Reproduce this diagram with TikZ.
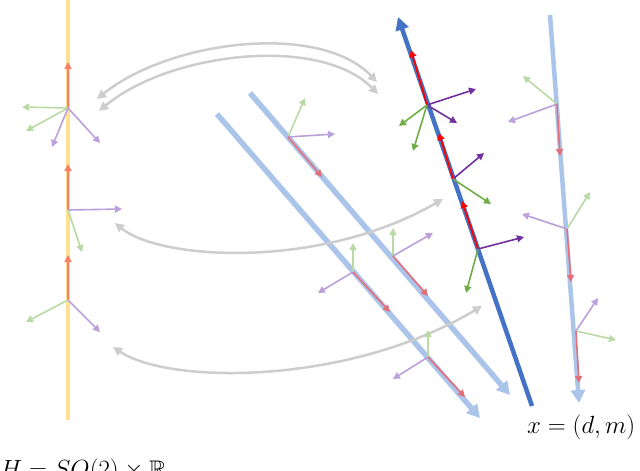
\documentclass[tikz,border=0pt]{standalone}
\usepackage{amssymb}
\usetikzlibrary{arrows.meta}
\definecolor{ylw}{RGB}{255,225,145}
\definecolor{lblue}{RGB}{170,196,234}
\definecolor{dblue}{RGB}{68,114,196}
\definecolor{arcgrey}{RGB}{205,205,205}
\definecolor{lred}{RGB}{255,125,100}
\definecolor{mred}{RGB}{228,110,122}
\definecolor{lgreen}{RGB}{185,217,165}
\definecolor{lpurple}{RGB}{188,160,220}
\definecolor{dred}{RGB}{255,0,0}
\definecolor{dpurple}{RGB}{112,48,160}
\definecolor{dgreen}{RGB}{112,173,71}
\begin{document}
\begin{tikzpicture}[x=1pt,y=-1pt,
  vec/.style={line width=1.6pt,-{Triangle[length=7pt,width=7pt]}},
  vr/.style={vec,draw=lred},
  vm/.style={vec,draw=mred},
  vg/.style={vec,draw=lgreen},
  vp/.style={vec,draw=lpurple},
  dr/.style={vec,draw=dred,line width=1.8pt},
  dg/.style={vec,draw=dgreen},
  dp/.style={vec,draw=dpurple},
  arc/.style={draw=arcgrey,line width=2.5pt,{Triangle[length=9pt,width=9pt]}-{Triangle[length=9pt,width=9pt]}},
  bline/.style={draw=lblue,line width=5.5pt,-{Triangle[length=13pt,width=14pt]}},
  lbl/.style={font=\fontsize{24}{28}\selectfont,inner sep=0pt}]
\useasboundingbox (0,0) rectangle (640,471);

% yellow line
\coordinate (y0) at (68,0);
\coordinate (y1) at (68,420);
\draw[draw=ylw,line width=4.5pt] (y0) -- (y1);

% light blue diagonal lines
\coordinate (l1a) at (217,114);
\coordinate (l1b) at (480,418);
\coordinate (l2a) at (250,93);
\coordinate (l2b) at (510,395);
\draw[bline] (l1a) -- (l1b);
\draw[bline] (l2a) -- (l2b);

% right light blue line
\coordinate (ra) at (550,15);
\coordinate (rb) at (579,403);
\draw[bline,line width=4.5pt] (ra) -- (rb);

% dark blue line
\coordinate (da) at (532,406);
\coordinate (db) at (398,17);
\draw[draw=dblue,line width=4.5pt,-{Triangle[length=13pt,width=13pt]}] (da) -- (db);

% grey arcs
\draw[arc] (97,99) .. controls (170,40) and (320,22) .. (377,82);
\draw[arc] (99,111) .. controls (170,52) and (320,35) .. (378,94);
\draw[arc] (115,223) .. controls (160,260) and (320,270) .. (443,199);
\draw[arc] (113,347) .. controls (170,385) and (350,385) .. (482,306);

% left frames
\coordinate (A) at (68,108);
\draw[vr] (A) -- (68,62);
\draw[vg] (A) -- (22,107);
\draw[vg] (A) -- (26,131);
\draw[vp] (A) -- (52,147);
\draw[vp] (A) -- (100,143);
\coordinate (B) at (68,210);
\draw[vr] (B) -- (68,164);
\draw[vp] (B) -- (122,209);
\draw[vg] (B) -- (82,252);
\coordinate (C) at (68,300);
\draw[vr] (C) -- (68,255);
\draw[vg] (C) -- (26,322);
\draw[vp] (C) -- (100,332);

% middle frames
\coordinate (M1) at (288,137);
\draw[vg] (M1) -- (305,98);
\draw[vp] (M1) -- (335,134);
\draw[vm] (M1) -- (322,177);
\coordinate (M2) at (353,272);
\draw[vg] (M2) -- (353,243);
\draw[vp] (M2) -- (318,293);
\draw[vm] (M2) -- (390,312);
\coordinate (M3) at (393,256);
\draw[vg] (M3) -- (393,228);
\draw[vp] (M3) -- (433,233);
\draw[vm] (M3) -- (428,296);
\coordinate (M4) at (428,357);
\draw[vg] (M4) -- (428,330);
\draw[vp] (M4) -- (393,379);
\draw[vm] (M4) -- (465,397);

% dark frames
\coordinate (D1) at (427,105);
\draw[dr] (D1) -- (411,50);
\draw[dp] (D1) -- (476,89);
\draw[dp] (D1) -- (457,123);
\draw[dg] (D1) -- (399,126);
\draw[dg] (D1) -- (413,151);
\coordinate (D2) at (453,179);
\draw[dr] (D2) -- (439,133);
\draw[dp] (D2) -- (484,153);
\draw[dg] (D2) -- (491,204);
\coordinate (D3) at (478,249);
\draw[dr] (D3) -- (462,201);
\draw[dp] (D3) -- (524,237);
\draw[dg] (D3) -- (466,293);

% right frames
\coordinate (R1) at (557,104);
\draw[vg] (R1) -- (523,76);
\draw[vp] (R1) -- (508,122);
\draw[vm] (R1) -- (560,156);
\coordinate (R2) at (567,229);
\draw[vg] (R2) -- (590,192);
\draw[vp] (R2) -- (522,214);
\draw[vm] (R2) -- (571,282);
\coordinate (R3) at (576,331);
\draw[vp] (R3) -- (598,298);
\draw[vg] (R3) -- (616,340);
\draw[vm] (R3) -- (579,383);

% labels
\node[lbl,anchor=base west] (xdm) at (527,433) {$x=(d,m)$};
\node[lbl,anchor=base west] (grp) at (0,477) {$H=SO(2)\times\mathbb{R}$};
\end{tikzpicture}
\end{document}
